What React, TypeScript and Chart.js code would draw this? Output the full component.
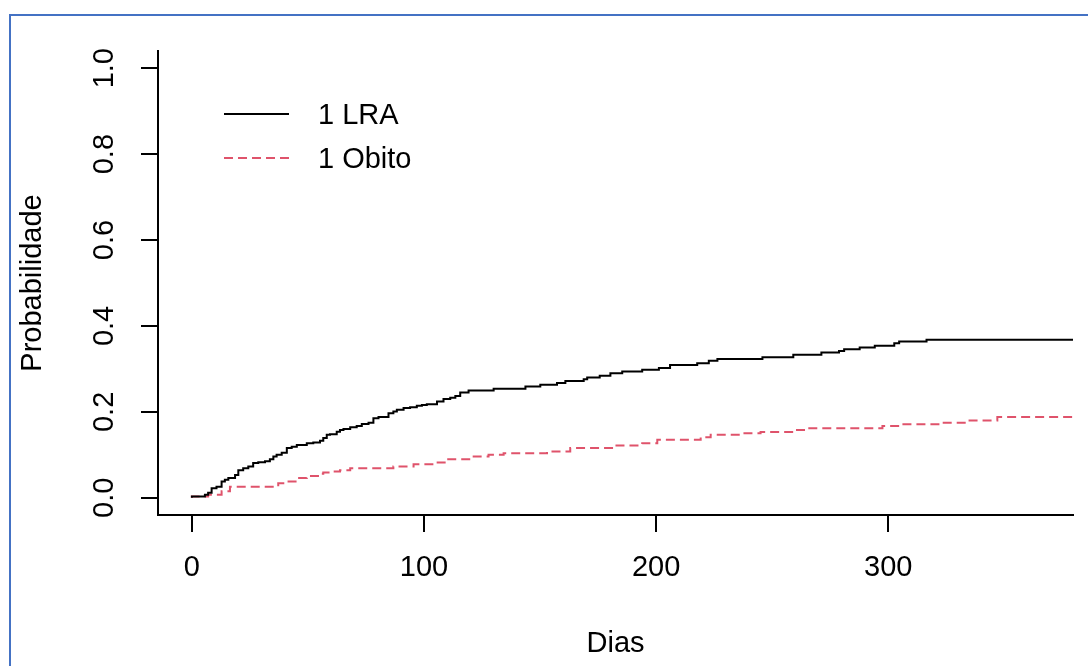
import React, { useEffect, useRef } from "react";
import { Chart, registerables } from "chart.js";

Chart.register(...registerables);

// Cumulative incidence – "1 LRA"
const lraDias = [0, 5.6, 7.0, 8.5, 10.6, 12.8, 14.2, 15.7, 18.6, 20.0, 22.1, 24.3, 26.4, 28.6, 31.5, 33.6, 35.1, 36.5, 38.7, 40.9, 43.0, 45.2, 49.5, 52.3, 55.2, 56.6, 58.1, 59.5, 62.4, 63.8, 65.3, 68.2, 71.0, 73.2, 76.1, 78.2, 80.4, 84.7, 86.8, 88.3, 91.2, 94.0, 96.9, 99.1, 101.2, 105.6, 108.4, 111.3, 113.5, 115.6, 119.2, 130, 143.7, 150.1, 157.3, 160.9, 168.8, 170.3, 175.7, 180.3, 185.4, 194.0, 201.2, 206.0, 217.7, 222.7, 226.4, 245.8, 259.1, 271.2, 278.8, 281.0, 287.7, 294.2, 302.6, 304.7, 316.5, 349.3, 400];
const lraProb = [0, 0.003, 0.007, 0.012, 0.022, 0.026, 0.038, 0.042, 0.046, 0.053, 0.064, 0.069, 0.073, 0.081, 0.083, 0.085, 0.090, 0.096, 0.100, 0.105, 0.116, 0.119, 0.123, 0.127, 0.129, 0.133, 0.139, 0.147, 0.148, 0.154, 0.158, 0.160, 0.164, 0.167, 0.172, 0.175, 0.185, 0.188, 0.197, 0.201, 0.205, 0.209, 0.211, 0.214, 0.216, 0.218, 0.224, 0.230, 0.233, 0.237, 0.245, 0.250, 0.254, 0.259, 0.263, 0.267, 0.272, 0.276, 0.280, 0.284, 0.290, 0.294, 0.298, 0.302, 0.309, 0.313, 0.319, 0.323, 0.327, 0.333, 0.338, 0.342, 0.346, 0.350, 0.354, 0.360, 0.364, 0.368, 0.368];

// Cumulative incidence – "1 Obito"
const obitoDias = [0, 7.0, 12.8, 16.4, 37.2, 40.9, 45.2, 49.5, 55.2, 56.6, 61.0, 63.8, 68.2, 86.8, 95.5, 104.1, 109.9, 121.4, 127.8, 134.3, 153.0, 163.0, 181.8, 194.0, 200.5, 219.2, 223.5, 236.4, 245.0, 259.4, 265.2, 297.5, 305.4, 322.7, 334.2, 347.0, 360.0, 400];
const obitoProb = [0, 0.003, 0.007, 0.015, 0.026, 0.034, 0.038, 0.046, 0.051, 0.056, 0.059, 0.061, 0.064, 0.069, 0.073, 0.078, 0.082, 0.090, 0.096, 0.100, 0.104, 0.108, 0.116, 0.122, 0.127, 0.135, 0.141, 0.147, 0.150, 0.153, 0.158, 0.162, 0.167, 0.171, 0.175, 0.180, 0.188, 0.188];

const seriesLabels = ["1 LRA", "1 Obito"];
const xTicks = [0, 100, 200, 300];
const yTicks = [0, 0.2, 0.4, 0.6, 0.8, 1.0];
const xLabel = "Dias";
const yLabel = "Probabilidade";

const FONT = "'Liberation Sans', Arial, sans-serif";
const FS = 29;

const legendPlugin = {
  id: "rLegend",
  afterDatasetsDraw(chart: any) {
    const { ctx, chartArea } = chart;
    const x0 = chartArea.left + 66;
    const y0 = chartArea.top + 63;
    chart.data.datasets.forEach((ds: any, i: number) => {
      const y = y0 + i * 44;
      ctx.save();
      ctx.strokeStyle = ds.borderColor;
      ctx.lineWidth = ds.borderWidth;
      ctx.setLineDash(ds.borderDash || []);
      ctx.beginPath();
      ctx.moveTo(x0, y);
      ctx.lineTo(x0 + 65, y);
      ctx.stroke();
      ctx.setLineDash([]);
      ctx.fillStyle = "#000";
      ctx.font = `${FS}px ${FONT}`;
      ctx.textBaseline = "middle";
      ctx.textAlign = "left";
      ctx.fillText(ds.label, x0 + 94, y + 2);
      ctx.restore();
    });
  },
};

export default function App() {
  const ref = useRef<HTMLCanvasElement>(null);
  useEffect(() => {
    if (!ref.current) return;
    const chart = new Chart(ref.current, {
      type: "line",
      data: {
        datasets: [
          {
            label: seriesLabels[0],
            data: lraDias.map((d, i) => ({ x: d, y: lraProb[i] })),
            borderColor: "#000000",
            borderWidth: 2,
            stepped: "after",
            pointRadius: 0,
            fill: false,
          },
          {
            label: seriesLabels[1],
            data: obitoDias.map((d, i) => ({ x: d, y: obitoProb[i] })),
            borderColor: "#DF536B",
            borderWidth: 2,
            borderDash: [9, 5],
            stepped: "after",
            pointRadius: 0,
            fill: false,
          },
        ],
      },
      options: {
        responsive: false,
        animation: false,
        layout: { padding: { left: 0, top: 51, right: 15, bottom: 0 } },
        plugins: { legend: { display: false }, tooltip: { enabled: false } },
        scales: {
          x: {
            type: "linear",
            min: -14.6,
            max: 379.6,
            afterBuildTicks: (s: any) => {
              s.ticks = xTicks.map((v) => ({ value: v }));
            },
            afterFit: (s: any) => {
              s.height = 151;
            },
            grid: {
              drawOnChartArea: false,
              drawTicks: true,
              tickLength: 17,
              color: "#000",
              lineWidth: 2,
            },
            border: { display: true, color: "#000", width: 2 },
            ticks: {
              color: "#000",
              font: { family: FONT, size: FS },
              padding: 19,
              maxRotation: 0,
              minRotation: 0,
              callback: (v: any) => String(v),
            },
            title: {
              display: true,
              text: xLabel,
              color: "#000",
              font: { family: FONT, size: FS },
              padding: { top: 0, bottom: 5 },
            },
          },
          y: {
            type: "linear",
            min: -0.04,
            max: 1.04,
            afterBuildTicks: (s: any) => {
              s.ticks = yTicks.map((v) => ({ value: v }));
            },
            afterFit: (s: any) => {
              s.width = 158;
            },
            grid: {
              drawOnChartArea: false,
              drawTicks: true,
              tickLength: 17,
              color: "#000",
              lineWidth: 2,
            },
            border: { display: true, color: "#000", width: 2 },
            ticks: {
              color: "#000",
              font: { family: FONT, size: FS },
              padding: 16,
              minRotation: 90,
              maxRotation: 90,
              crossAlign: "center",
              callback: (v: any) => Number(v).toFixed(1),
            },
            title: {
              display: true,
              text: yLabel,
              color: "#000",
              font: { family: FONT, size: FS },
              padding: { top: 16, bottom: 0 },
            },
          },
        },
      },
      plugins: [legendPlugin],
    });
    return () => chart.destroy();
  }, []);

  return (
    <div style={{ position: "absolute", left: 0, top: 0, width: 1088, height: 666, overflow: "hidden", background: "#fff" }}>
      <div
        style={{
          position: "absolute",
          left: 9,
          top: 14,
          width: 1200,
          height: 800,
          border: "2px solid #4472C4",
          boxSizing: "border-box",
        }}
      />
      <canvas ref={ref} width={1088} height={666} style={{ position: "absolute", left: 0, top: 0 }} />
    </div>
  );
}
